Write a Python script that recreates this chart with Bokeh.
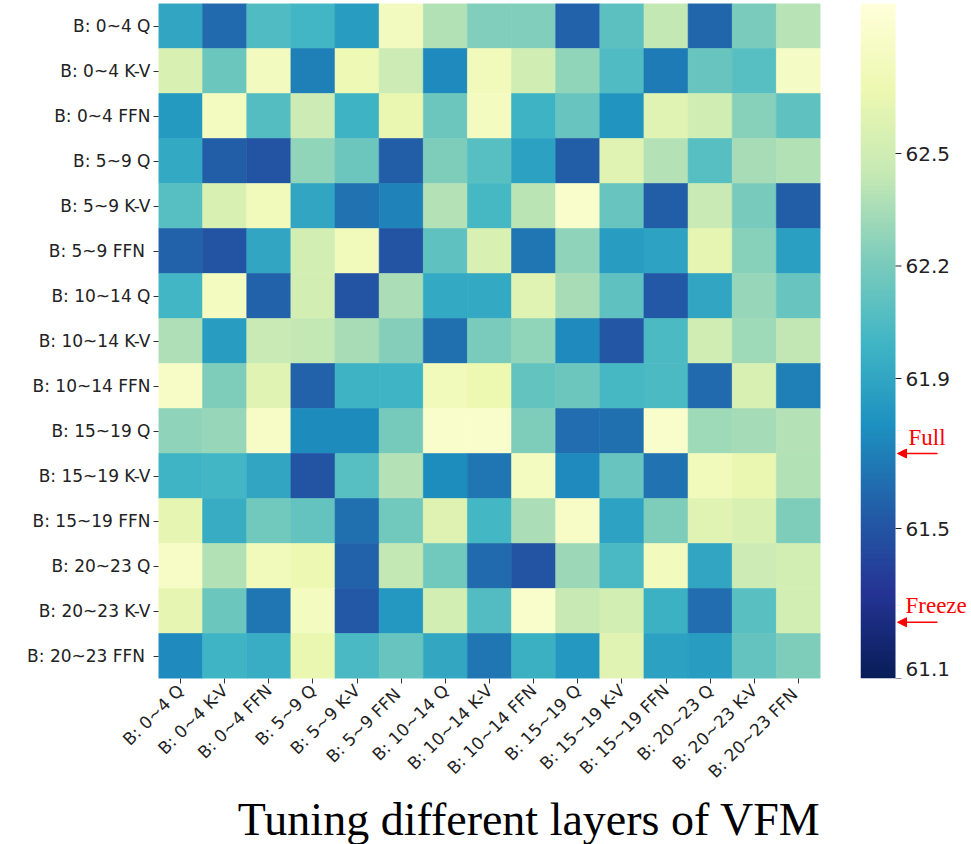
import numpy as np
from math import pi
from bokeh.plotting import figure
from bokeh.layouts import row
from bokeh.core.properties import value
from bokeh.models import (ColumnDataSource, LinearColorMapper, FixedTicker,
                          Range1d, Arrow, NormalHead, Title)
from bokeh.embed import file_html
from bokeh.resources import INLINE

# ---------------- data ----------------
layers = ["B: 0~4 Q", "B: 0~4 K-V", "B: 0~4 FFN", "B: 5~9 Q", "B: 5~9 K-V", "B: 5~9 FFN ",
          "B: 10~14 Q", "B: 10~14 K-V", "B: 10~14 FFN", "B: 15~19 Q", "B: 15~19 K-V",
          "B: 15~19 FFN", "B: 20~23 Q", "B: 20~23 K-V", "B: 20~23 FFN "]

row_0_4_q     = [61.90, 61.60, 62.05, 62.00, 61.85, 62.75, 62.38, 62.23, 62.23, 61.57, 62.10, 62.44, 61.58, 62.21, 62.40]
row_0_4_kv    = [62.55, 62.15, 62.75, 61.70, 62.70, 62.48, 61.74, 62.72, 62.50, 62.28, 62.05, 61.68, 62.14, 62.08, 62.78]
row_0_4_ffn   = [61.83, 62.76, 62.07, 62.48, 61.98, 62.66, 62.16, 62.76, 61.98, 62.14, 61.80, 62.60, 62.50, 62.25, 62.11]
row_5_9_q     = [61.92, 61.55, 61.50, 62.28, 62.16, 61.55, 62.22, 62.08, 61.87, 61.55, 62.60, 62.39, 62.08, 62.35, 62.38]
row_5_9_kv    = [62.08, 62.55, 62.72, 61.90, 61.64, 61.71, 62.39, 62.02, 62.41, 62.82, 62.14, 61.55, 62.46, 62.20, 61.55]
row_5_9_ffn   = [61.57, 61.50, 61.90, 62.52, 62.72, 61.50, 62.11, 62.55, 61.65, 62.27, 61.84, 61.88, 62.63, 62.25, 61.86]
row_10_14_q   = [62.00, 62.76, 61.57, 62.52, 61.50, 62.36, 61.92, 61.92, 62.60, 62.35, 62.11, 61.52, 61.90, 62.30, 62.14]
row_10_14_kv  = [62.37, 61.85, 62.46, 62.44, 62.35, 62.24, 61.63, 62.21, 62.28, 61.74, 61.51, 62.04, 62.50, 62.32, 62.43]
row_10_14_ffn = [62.80, 62.22, 62.60, 61.57, 61.98, 61.99, 62.72, 62.67, 62.12, 62.16, 62.02, 62.04, 61.60, 62.55, 61.70]
row_15_19_q   = [62.27, 62.30, 62.80, 61.75, 61.75, 62.19, 62.82, 62.82, 62.22, 61.62, 61.63, 62.82, 62.32, 62.34, 62.39]
row_15_19_kv  = [61.99, 62.00, 61.90, 61.50, 62.08, 62.39, 61.76, 61.65, 62.76, 61.74, 62.14, 61.64, 62.73, 62.66, 62.38]
row_15_19_ffn = [62.63, 61.94, 62.17, 62.13, 61.63, 62.17, 62.59, 62.01, 62.36, 62.80, 61.88, 62.22, 62.60, 62.55, 62.22]
row_20_23_q   = [62.80, 62.38, 62.72, 62.68, 61.57, 62.44, 62.17, 61.60, 61.50, 62.31, 62.03, 62.74, 61.90, 62.48, 62.52]
row_20_23_kv  = [62.63, 62.15, 61.65, 62.76, 61.52, 61.82, 62.52, 62.06, 62.82, 62.45, 62.52, 61.97, 61.62, 62.09, 62.52]
row_20_23_ffn = [61.74, 61.99, 61.95, 62.66, 62.03, 62.14, 61.91, 61.65, 61.96, 61.82, 62.60, 61.87, 61.84, 62.13, 62.22]

rows = [row_0_4_q, row_0_4_kv, row_0_4_ffn, row_5_9_q, row_5_9_kv, row_5_9_ffn,
        row_10_14_q, row_10_14_kv, row_10_14_ffn, row_15_19_q, row_15_19_kv, row_15_19_ffn,
        row_20_23_q, row_20_23_kv, row_20_23_ffn]

cbar_low, cbar_high = 61.1, 62.9
cbar_ticks = [61.1, 61.5, 61.9, 62.2, 62.5]
marker_values = [61.70, 61.25]
marker_names = ["Full", "Freeze"]
title_text = "Tuning different layers of VFM"

# ---------------- colour map (YlGnBu) ----------------
ylgnbu_stops = ["#081d58", "#253494", "#225ea8", "#1d91c0", "#41b6c4",
                "#7fcdbb", "#c7e9b4", "#edf8b1", "#ffffd9"]

def interp_colors(colors, n):
    rgb = np.array([[int(c[i:i + 2], 16) for i in (1, 3, 5)] for c in colors], float)
    pos = np.linspace(0, 1, len(colors))
    t = np.linspace(0, 1, n)
    out = np.stack([np.interp(t, pos, rgb[:, k]) for k in range(3)], axis=1)
    return ["#%02x%02x%02x" % tuple(int(round(v)) for v in r) for r in out]

palette = interp_colors(ylgnbu_stops, 256)
mapper = LinearColorMapper(palette=palette, low=cbar_low, high=cbar_high)

n = len(layers)
centers = [i + 0.5 for i in range(n)]
xs, ys, vals = [], [], []
for r in range(n):
    for c in range(n):
        xs.append(centers[c])
        ys.append(centers[r])
        vals.append(rows[r][c])
src = ColumnDataSource(dict(x=xs, y=ys, val=vals))

# ---------------- heatmap figure ----------------
FRAME_TOP, FRAME_H, TOTAL_H = 3, 689, 844
p = figure(width=860, height=TOTAL_H,
           x_range=Range1d(0, n), y_range=Range1d(n, 0),
           output_backend="svg", toolbar_location=None,
           min_border_left=158, min_border_right=40, min_border_top=FRAME_TOP,
           min_border_bottom=TOTAL_H - FRAME_TOP - FRAME_H)

p.rect(x="x", y="y", width=1, height=1, source=src,
       fill_color={"field": "val", "transform": mapper},
       line_color={"field": "val", "transform": mapper}, line_width=0.6)

p.outline_line_color = None
p.grid.visible = False
overrides = {c: lab for c, lab in zip(centers, layers)}
for ax in (p.xaxis[0], p.yaxis[0]):
    ax.ticker = FixedTicker(ticks=centers, minor_ticks=[])
    ax.major_label_overrides = overrides
    ax.axis_line_color = None
    ax.major_tick_in = 0
    ax.major_tick_out = 5
    ax.minor_tick_out = 0
    ax.minor_tick_in = 0
    ax.major_tick_line_color = "#333333"
    ax.major_label_text_font = "DejaVu Sans"
    ax.major_label_text_font_size = "17px"
    ax.major_label_text_color = "#222222"
    ax.major_label_standoff = 3
p.xaxis.major_label_orientation = pi / 4
p.xaxis.major_label_standoff = 4

p.add_layout(Title(text=title_text, align="right",
                   text_font="Liberation Serif", text_font_size="46px",
                   text_font_style="normal", text_color="black", standoff=0), "below")

# ---------------- colour bar figure (frame aligned with the heatmap) ----------------
CB_W = 111
span = cbar_high - cbar_low
q = figure(width=CB_W, height=TOTAL_H,
           x_range=Range1d(0, CB_W), y_range=Range1d(cbar_low, cbar_high),
           output_backend="svg", toolbar_location=None,
           x_axis_location=None, y_axis_location=None,
           min_border_left=0, min_border_right=0, min_border_top=FRAME_TOP,
           min_border_bottom=TOTAL_H - FRAME_TOP - FRAME_H)
q.outline_line_color = None
q.grid.visible = False

BAR_W = 35
grad = np.linspace(cbar_low, cbar_high, 256).reshape(256, 1)
q.image(image=[grad], x=0, y=cbar_low, dw=BAR_W, dh=span, color_mapper=mapper)

q.segment(x0=[BAR_W] * len(cbar_ticks), x1=[BAR_W + 6] * len(cbar_ticks),
          y0=cbar_ticks, y1=cbar_ticks, line_color="#222222", line_width=1.2)
tick_text = ["%.1f" % t for t in cbar_ticks]
q.text(x=[BAR_W + 10] * (len(cbar_ticks) - 1), y=cbar_ticks[1:], text=tick_text[1:],
       text_font=value("DejaVu Sans"), text_font_size="20px",
       text_color="#222222", text_baseline="middle", text_align="left")
# lowest label sits on the frame edge: keep it whole inside the frame
q.text(x=[BAR_W + 10], y=cbar_ticks[:1], text=tick_text[:1],
       text_font=value("DejaVu Sans"), text_font_size="20px",
       text_color="#222222", text_baseline="bottom", text_align="left", y_offset=-3)

q.text(x=[BAR_W + 13, BAR_W + 10], y=marker_values, text=marker_names,
       text_font=value("Liberation Serif"), text_font_size="23px",
       text_color="red", text_baseline="bottom", text_align="left", y_offset=-4)
for v in marker_values:
    q.add_layout(Arrow(x_start=BAR_W + 42, y_start=v, x_end=BAR_W + 2, y_end=v,
                       line_color="red", line_width=1.6,
                       end=NormalHead(size=9, fill_color="red", line_color="red")))

layout = row(p, q)
open("out.html", "w").write(file_html(layout, INLINE))
